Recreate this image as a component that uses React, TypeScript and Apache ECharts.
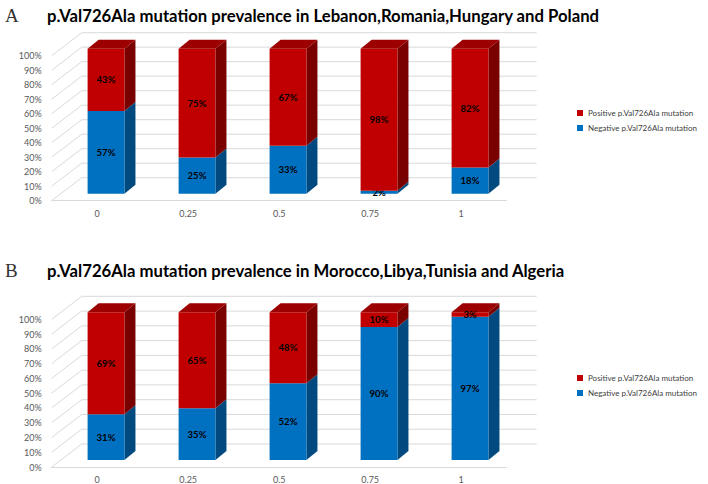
import React, { useEffect, useRef } from "react";
import * as echarts from "echarts";

const categories = ["0", "0.25", "0.5", "0.75", "1"];
const negativeA = [57, 25, 33, 2, 18];
const positiveA = [43, 75, 67, 98, 82];
const negativeB = [31, 35, 52, 90, 97];
const positiveB = [69, 65, 48, 10, 3];
const gridTicks = [0, 10, 20, 30, 40, 50, 60, 70, 80, 90, 100];

const titleA = "p.Val726Ala mutation prevalence in Lebanon,Romania,Hungary and Poland";
const titleB = "p.Val726Ala mutation prevalence in Morocco,Libya,Tunisia and Algeria";
const posName = "Positive p.Val726Ala mutation";
const negName = "Negative p.Val726Ala mutation";

const RED = { front: "#C00000", side: "#7A0000", top: "#9C0000" };
const BLUE = { front: "#0070C0", side: "#004A80", top: "#005C9E" };

const FONT = "Lato";
const OFFY = -7;
const DX = 11;
const DY = -9;
const WALL_DX = 30;
const WALL_DY = -23;

function wallRender(params: any, api: any) {
  const cs = params.coordSys;
  const y = api.coord([0, api.value(1)])[1];
  const left = cs.x;
  const right = cs.x + cs.width;
  return {
    type: "polyline",
    shape: {
      points: [
        [left, y],
        [left + WALL_DX, y + WALL_DY],
        [right + WALL_DX, y + WALL_DY],
      ],
    },
    style: { stroke: "#D9D9D9", lineWidth: 1, fill: "none" },
  };
}

function barRender(colors: any) {
  return (params: any, api: any) => {
    const i = api.value(0);
    const lo = api.value(1);
    const hi = api.value(2);
    const band = api.size([1, 0])[0];
    const cx = api.coord([i, 0])[0];
    const yLo = api.coord([i, lo])[1] + OFFY;
    const yHi = api.coord([i, hi])[1] + OFFY;
    const w = band * 0.405;
    const xl = cx + band * 0.097 - w / 2;
    const xr = xl + w;
    const children: any[] = [
      {
        type: "polygon",
        shape: {
          points: [
            [xr, yHi],
            [xr + DX, yHi + DY],
            [xr + DX, yLo + DY],
            [xr, yLo],
          ],
        },
        style: { fill: colors.side },
      },
      {
        type: "rect",
        shape: { x: xl, y: yHi, width: w, height: yLo - yHi },
        style: { fill: colors.front },
      },
    ];
    if (hi >= 100) {
      children.push({
        type: "polygon",
        shape: {
          points: [
            [xl, yHi],
            [xr, yHi],
            [xr + DX, yHi + DY],
            [xl + DX, yHi + DY],
          ],
        },
        style: { fill: colors.top },
      });
    }
    children.push({
      type: "text",
      style: {
        text: Math.round(hi - lo) + "%",
        x: xl + w / 2,
        y: (yHi + yLo) / 2,
        align: "center",
        verticalAlign: "middle",
        font: `bold 9.5px ${FONT}`,
        fill: "#000000",
      },
    });
    return { type: "group", children };
  };
}

function chartSeries(k: number, neg: number[], pos: number[]) {
  return [
    {
      type: "custom",
      name: "wall" + k,
      xAxisIndex: k,
      yAxisIndex: k,
      z: 1,
      silent: true,
      renderItem: wallRender,
      data: gridTicks.map((v) => [0, v]),
      encode: { x: 0, y: 1 },
    },
    {
      type: "custom",
      name: negName,
      xAxisIndex: k,
      yAxisIndex: k,
      z: 3,
      itemStyle: { color: BLUE.front },
      renderItem: barRender(BLUE),
      data: neg.map((v, i) => [i, 0, v]),
      encode: { x: 0, y: [1, 2] },
    },
    {
      type: "custom",
      name: posName,
      xAxisIndex: k,
      yAxisIndex: k,
      z: 4,
      itemStyle: { color: RED.front },
      renderItem: barRender(RED),
      data: pos.map((v, i) => [i, neg[i], neg[i] + v]),
      encode: { x: 0, y: [1, 2] },
    },
  ];
}

function axisX(k: number) {
  return {
    type: "category",
    gridIndex: k,
    data: categories,
    axisLine: { show: true, lineStyle: { color: "#D9D9D9" } },
    axisTick: { show: false },
    axisLabel: { color: "#595959", fontSize: 9, fontFamily: FONT, margin: 8 },
  };
}

function axisY(k: number) {
  return {
    type: "value",
    gridIndex: k,
    min: 0,
    max: 100,
    interval: 10,
    axisLine: { show: false },
    axisTick: { show: false },
    splitLine: { show: false },
    axisLabel: {
      color: "#595959",
      fontSize: 9,
      fontFamily: FONT,
      margin: 10,
      formatter: "{value}%",
    },
  };
}

function legendAt(top: number) {
  return {
    left: 577,
    top,
    orient: "vertical",
    icon: "rect",
    itemWidth: 6,
    itemHeight: 6,
    itemGap: 7,
    padding: 0,
    textStyle: { fontSize: 8, color: "#404040", fontFamily: FONT },
    data: [posName, negName],
  };
}

export default function App() {
  const ref = useRef<HTMLDivElement>(null);
  useEffect(() => {
    const chart = echarts.init(ref.current!, null, { renderer: "svg" });
    chart.setOption({
      animation: false,
      backgroundColor: "#ffffff",
      title: [
        {
          text: "A",
          left: 5,
          top: 6,
          padding: 0,
          textStyle: { fontFamily: "Liberation Serif", fontSize: 19, fontWeight: "normal", color: "#333" },
        },
        {
          text: titleA,
          left: 47,
          top: 7,
          padding: 0,
          textStyle: { fontFamily: FONT, fontSize: 16.7, fontWeight: "bold", color: "#000" },
        },
        {
          text: "B",
          left: 5,
          top: 261,
          padding: 0,
          textStyle: { fontFamily: "Liberation Serif", fontSize: 19, fontWeight: "normal", color: "#333" },
        },
        {
          text: titleB,
          left: 47,
          top: 262,
          padding: 0,
          textStyle: { fontFamily: FONT, fontSize: 16.7, fontWeight: "bold", color: "#000" },
        },
      ],
      legend: [legendAt(109), legendAt(374)],
      grid: [
        { left: 51.7, top: 55.7, width: 455, height: 145 },
        { left: 51.7, top: 319.3, width: 455, height: 148 },
      ],
      xAxis: [axisX(0), axisX(1)],
      yAxis: [axisY(0), axisY(1)],
      series: [...chartSeries(0, negativeA, positiveA), ...chartSeries(1, negativeB, positiveB)],
    });
    return () => chart.dispose();
  }, []);
  return (
    <div
      ref={ref}
      style={{ position: "absolute", left: 0, top: 0, width: 708, height: 484, background: "#fff" }}
    />
  );
}
